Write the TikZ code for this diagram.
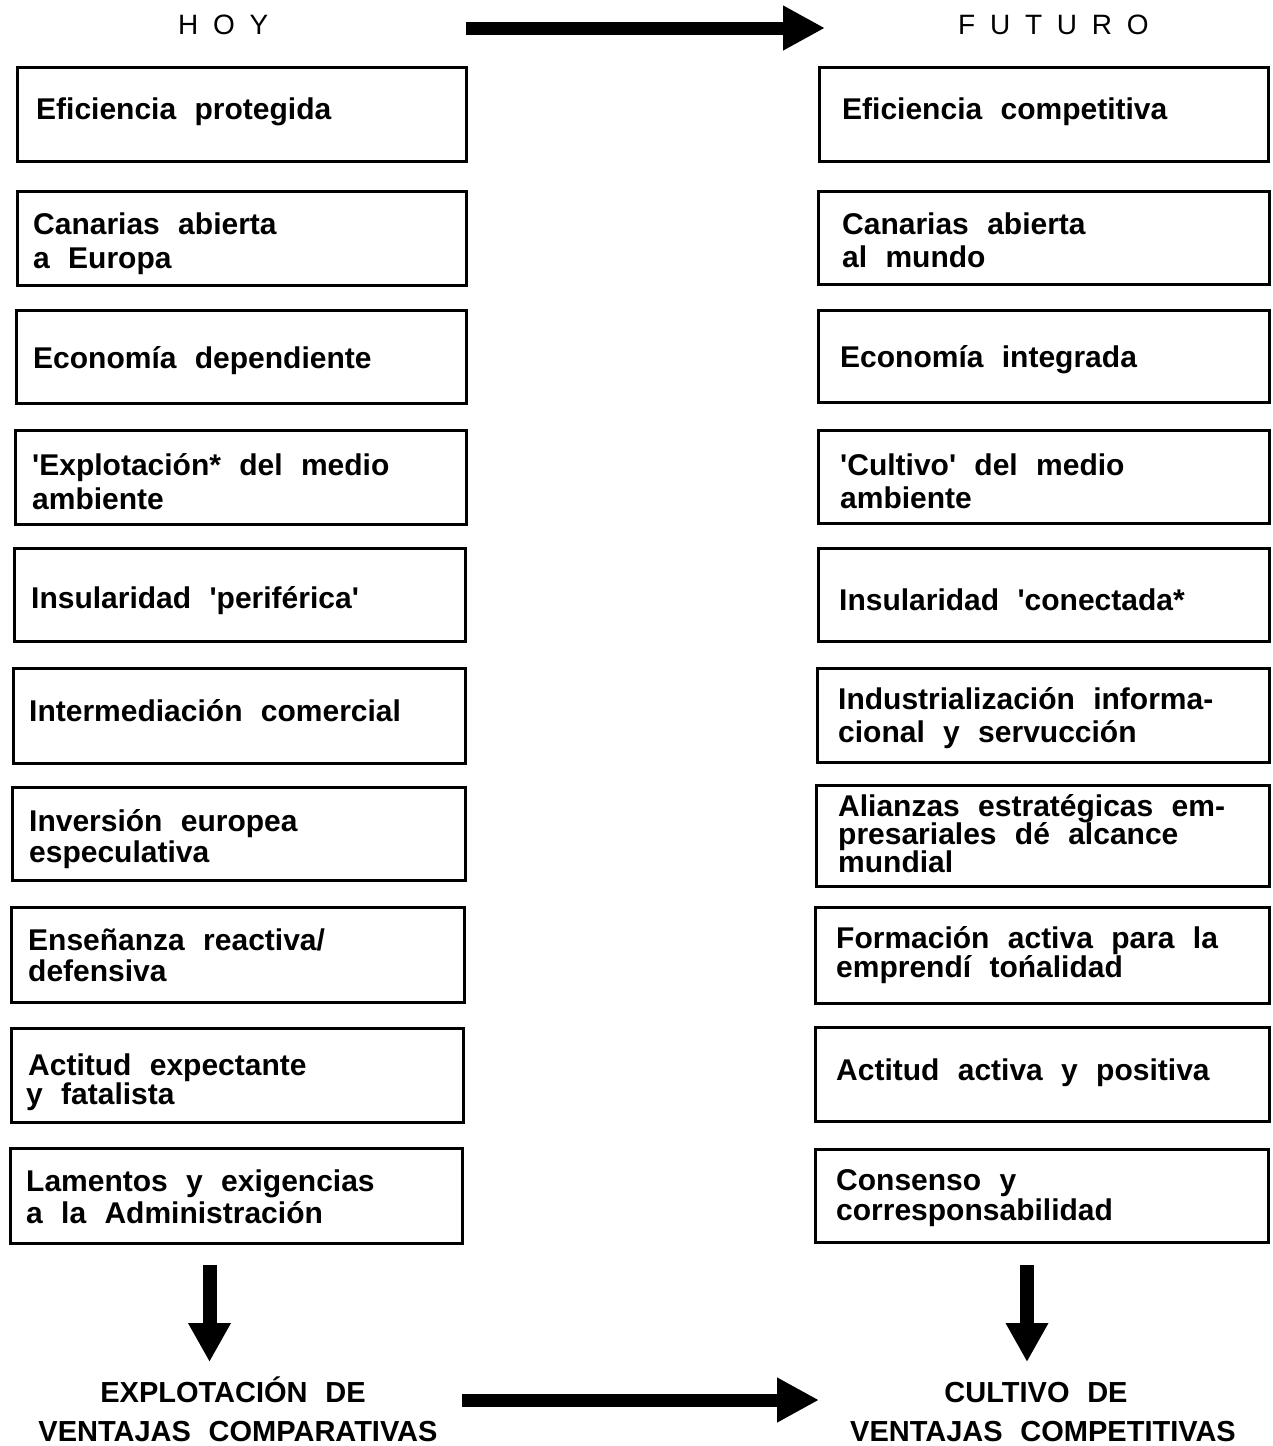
\documentclass[tikz,border=0pt]{standalone}
\usepackage{fontspec}
\setmainfont{Liberation Sans}[WordSpace=2.2]
\newfontfamily\headfont{Liberation Sans}[WordSpace=1.9]
\usetikzlibrary{arrows.meta,fit}
\newcommand{\sq}{\textquotesingle}
\begin{document}
\begin{tikzpicture}[x=1pt,y=-1pt,
  box/.style={draw, line width=3pt, inner sep=0pt, outer sep=0pt},
  txt/.style={anchor=base west, inner sep=0pt, font=\bfseries\fontsize{30}{34}\selectfont},
  tight/.style={txt, text height=18pt, text depth=3pt},
  headtxt/.style={anchor=base west, inner sep=0pt, font=\headfont\fontsize{28}{34}\selectfont},
  foot/.style={anchor=base, inner sep=0pt, font=\bfseries\fontsize{29}{34}\selectfont},
  fatarrow/.style={line width=13pt, -{Triangle[width=42pt,length=42pt]}},
  downarrow/.style={line width=14pt, -{Triangle[width=40pt,length=39pt]}}]
\useasboundingbox[fill=white] (0,0) rectangle (1272,1446);

% headers
\node[headtxt] (hoy) at (178,34) {H O Y};
\node[headtxt] (futuro) at (958,34) {F U T U R O};

% left boxes
\node[box, fit={(17,67) (466,161)}] (L1) {};
\node[box, fit={(17,191) (466,285)}] (L2) {};
\node[box, fit={(16,310) (466,403)}] (L3) {};
\node[box, fit={(15,430) (466,524)}] (L4) {};
\node[box, fit={(14,548) (465,641)}] (L5) {};
\node[box, fit={(13,668) (465,763)}] (L6) {};
\node[box, fit={(12,787) (465,880)}] (L7) {};
\node[box, fit={(11,907) (464,1002)}] (L8) {};
\node[box, fit={(11,1028) (463,1122)}] (L9) {};
\node[box, fit={(10,1148) (462,1243)}] (L10) {};

% right boxes
\node[box, fit={(819,67) (1268,161)}] (R1) {};
\node[box, fit={(818,191) (1269,284)}] (R2) {};
\node[box, fit={(818,310) (1269,402)}] (R3) {};
\node[box, fit={(818,430) (1269,523)}] (R4) {};
\node[box, fit={(818,548) (1269,641)}] (R5) {};
\node[box, fit={(817,668) (1269,762)}] (R6) {};
\node[box, fit={(816,785) (1269,886)}] (R7) {};
\node[box, fit={(815,907) (1269,1003)}] (R8) {};
\node[box, fit={(815,1027) (1269,1121)}] (R9) {};
\node[box, fit={(815,1149) (1268,1242)}] (R10) {};

% left texts
\node[txt] (l1a) at (36,119) {Eficiencia protegida};
\node[txt] (l2a) at (33,234) {Canarias abierta};
\node[txt] (l2b) at (33,268) {a Europa};
\node[txt] (l3a) at (33,368) {Economía dependiente};
\node[txt] (l4a) at (32,475) {\sq Explotación* del medio};
\node[txt] (l4b) at (32,509) {ambiente};
\node[txt] (l5a) at (31,608) {Insularidad \sq periférica\sq};
\node[txt] (l6a) at (29,721) {Intermediación comercial};
\node[txt] (l7a) at (29,831) {Inversión europea};
\node[txt] (l7b) at (29,862) {especulativa};
\node[txt] (l8a) at (28,950) {Enseñanza reactiva/};
\node[txt] (l8b) at (28,981) {defensiva};
\node[txt] (l9a) at (28,1075) {Actitud expectante};
\node[txt] (l9b) at (26,1104) {y fatalista};
\node[txt] (l10a) at (26,1191) {Lamentos y exigencias};
\node[txt] (l10b) at (26,1223) {a la Administración};

% right texts
\node[txt] (r1a) at (842,119) {Eficiencia competitiva};
\node[txt] (r2a) at (842,234) {Canarias abierta};
\node[txt] (r2b) at (842,267) {al mundo};
\node[txt] (r3a) at (840,367) {Economía integrada};
\node[txt] (r4a) at (840,475) {\sq Cultivo\sq{} del medio};
\node[txt] (r4b) at (840,508) {ambiente};
\node[txt] (r5a) at (839,610) {Insularidad \sq conectada*};
\node[txt] (r6a) at (838,709) {Industrialización informa-};
\node[txt] (r6b) at (838,742) {cional y servucción};
\node[tight] (r7a) at (838,816) {Alianzas estratégicas em-};
\node[tight] (r7b) at (838,844) {presariales dé alcance};
\node[tight] (r7c) at (838,872) {mundial};
\node[txt] (r8a) at (836,948) {Formación activa para la};
\node[txt] (r8b) at (836,977) {emprendí tońalidad};
\node[txt] (r9a) at (836,1080) {Actitud activa y positiva};
\node[txt] (r10a) at (836,1190) {Consenso y};
\node[txt] (r10b) at (836,1220) {corresponsabilidad};

% bottom texts
\node[foot] (exp1) at (233,1402) {EXPLOTACIÓN DE};
\node[foot] (exp2) at (238,1441) {VENTAJAS COMPARATIVAS};
\node[foot] (cul1) at (1036,1402) {CULTIVO DE};
\node[foot] (cul2) at (1043,1441) {VENTAJAS COMPETITIVAS};

% arrows
\coordinate (ta0) at (466,28);
\coordinate (ta1) at (825,28);
\coordinate (ba0) at (462,1400);
\coordinate (ba1) at (819,1400);
\coordinate (dl0) at (209.5,1265);
\coordinate (dl1) at (209.5,1362);
\coordinate (dr0) at (1027,1265);
\coordinate (dr1) at (1027,1362);
\draw[fatarrow] (ta0) -- (ta1);
\draw[fatarrow] (ba0) -- (ba1);
\draw[downarrow] (dl0) -- (dl1);
\draw[downarrow] (dr0) -- (dr1);
\end{tikzpicture}
\end{document}
